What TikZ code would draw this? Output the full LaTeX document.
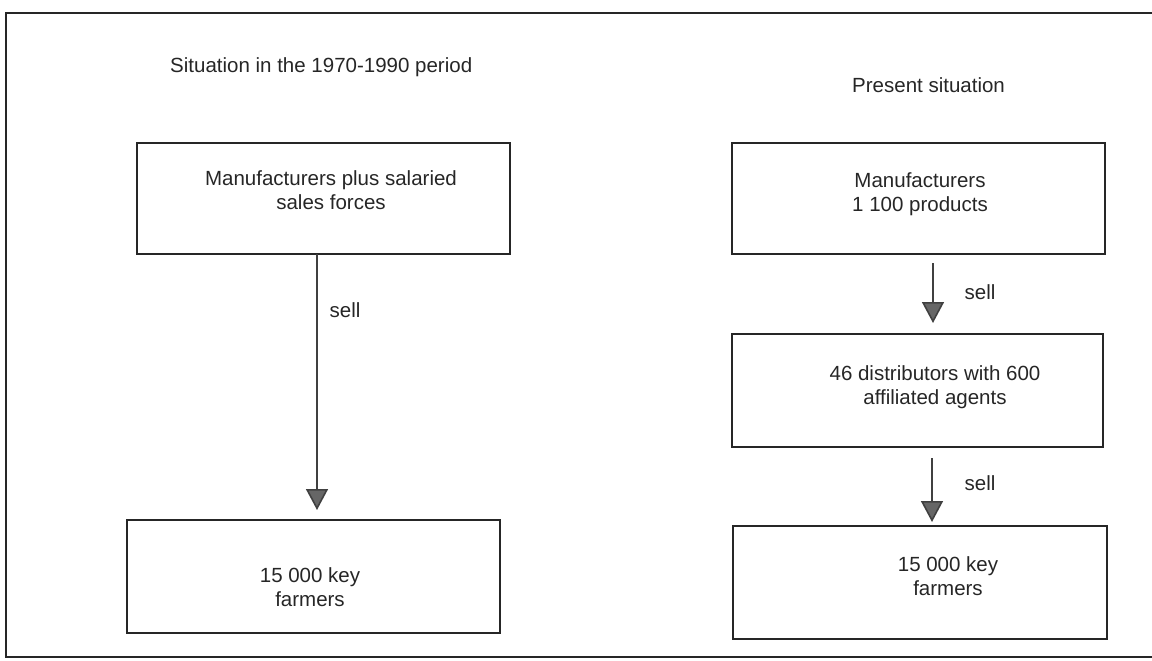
\documentclass[tikz,border=0pt]{standalone}
\usepackage{fontspec}
\setmainfont{Liberation Sans}
\usetikzlibrary{arrows.meta}
\tikzset{
  box/.style={draw=black!85, line width=1.6pt, rectangle, inner sep=0pt},
  lbl/.style={font=\fontsize{20.5}{24}\selectfont, text=black!85, align=center, inner sep=0pt},
  ttl/.style={font=\fontsize{20.5}{24}\selectfont, text=black!85, anchor=west, inner sep=0pt},
  flow/.style={draw=black!75, line width=1.6pt, -{Triangle[length=21pt,width=22pt,fill=black!60]}},
  frame/.style={draw=black!85, line width=1.8pt}
}
\begin{document}
\begin{tikzpicture}[x=1pt,y=-1pt]
\useasboundingbox (0,0) rectangle (1152,661);
% outer frame
\coordinate (ftr) at (1152,13);
\coordinate (ftl) at (6,13);
\coordinate (fbl) at (6,657);
\coordinate (fbr) at (1152,657);
\draw[frame] (ftr) -- (ftl) -- (fbl) -- (fbr);
% titles
\node[ttl] (t1) at (170,67) {Situation in the 1970-1990 period};
\node[ttl] (t2) at (852,85) {Present situation};
% left column
\node[box, minimum width=373pt, minimum height=111pt] (l1) at (323.5,198.5) {};
\node[lbl] (l1t) at (331,190) {Manufacturers plus salaried\\sales forces};
\node[box, minimum width=373pt, minimum height=113pt] (l2) at (313.5,576.5) {};
\node[lbl] (l2t) at (310,587) {15 000 key\\farmers};
\coordinate (la) at (317,254);
\coordinate (lb) at (317,510);
\draw[flow] (la) -- (lb);
\node[lbl] (s1) at (345,310) {sell};
% right column
\node[box, minimum width=373pt, minimum height=111pt] (r1) at (918.5,198.5) {};
\node[lbl] (r1t) at (920,194) {Manufacturers\\1 100 products};
\node[box, minimum width=371pt, minimum height=113pt] (r2) at (917.5,390.5) {};
\node[lbl] (r2t) at (935,387) {46 distributors with 600\\affiliated agents};
\node[box, minimum width=374pt, minimum height=113pt] (r3) at (920,582.5) {};
\node[lbl] (r3t) at (948,576) {15 000 key\\farmers};
\coordinate (ra1) at (933,263);
\coordinate (rb1) at (933,323);
\draw[flow] (ra1) -- (rb1);
\coordinate (ra2) at (932,458);
\coordinate (rb2) at (932,522);
\draw[flow] (ra2) -- (rb2);
\node[lbl] (s2) at (980,292) {sell};
\node[lbl] (s3) at (980,483) {sell};
\end{tikzpicture}
\end{document}
